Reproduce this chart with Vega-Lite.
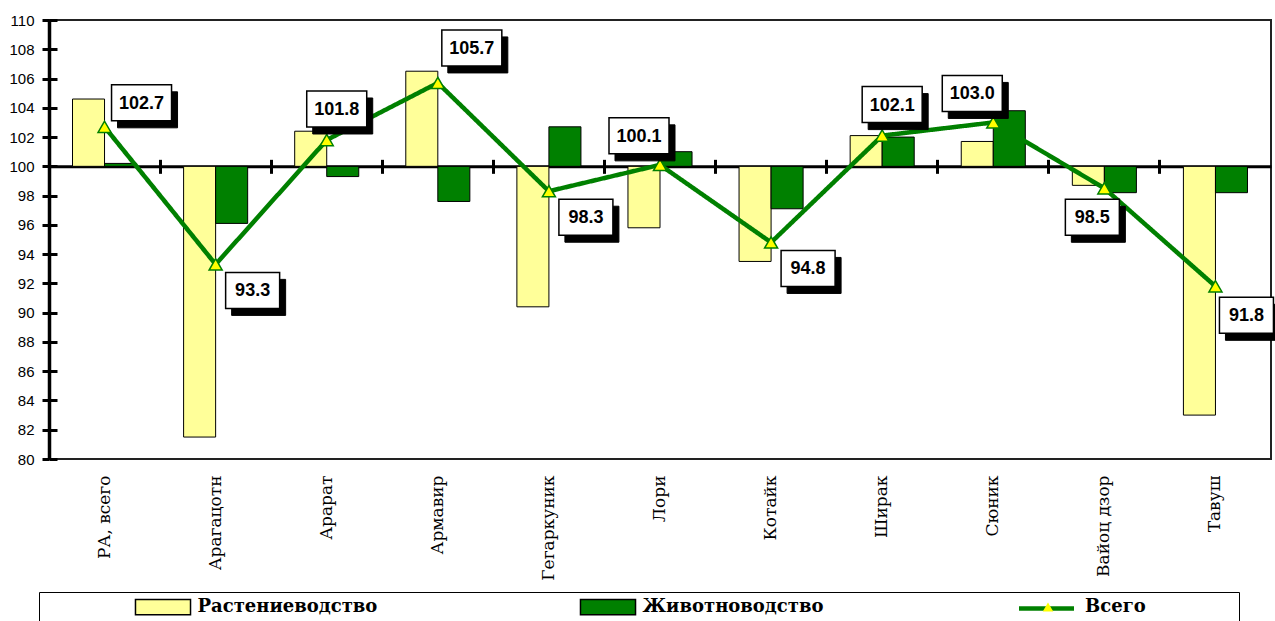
{
  "$schema": "https://vega.github.io/schema/vega-lite/v6.json",
  "width": 1222,
  "height": 439,
  "autosize": {"type": "none"},
  "padding": {"left": 49, "top": 20, "right": 4, "bottom": 162},
  "background": "white",
  "config": {"view": {"stroke": "#222", "strokeWidth": 2}, "axis": {"grid": false}},
  "datasets": {
    "bars": [
      {"region": "РА, всего", "series": "Растениеводство", "value": 104.6},
      {"region": "РА, всего", "series": "Животноводство", "value": 100.2},
      {"region": "Арагацотн", "series": "Растениеводство", "value": 81.5},
      {"region": "Арагацотн", "series": "Животноводство", "value": 96.1},
      {"region": "Арарат", "series": "Растениеводство", "value": 102.4},
      {"region": "Арарат", "series": "Животноводство", "value": 99.3},
      {"region": "Армавир", "series": "Растениеводство", "value": 106.5},
      {"region": "Армавир", "series": "Животноводство", "value": 97.6},
      {"region": "Гегаркуник", "series": "Растениеводство", "value": 90.4},
      {"region": "Гегаркуник", "series": "Животноводство", "value": 102.7},
      {"region": "Лори", "series": "Растениеводство", "value": 95.8},
      {"region": "Лори", "series": "Животноводство", "value": 101.0},
      {"region": "Котайк", "series": "Растениеводство", "value": 93.5},
      {"region": "Котайк", "series": "Животноводство", "value": 97.1},
      {"region": "Ширак", "series": "Растениеводство", "value": 102.1},
      {"region": "Ширак", "series": "Животноводство", "value": 102.0},
      {"region": "Сюник", "series": "Растениеводство", "value": 101.7},
      {"region": "Сюник", "series": "Животноводство", "value": 103.8},
      {"region": "Вайоц дзор", "series": "Растениеводство", "value": 98.7},
      {"region": "Вайоц дзор", "series": "Животноводство", "value": 98.2},
      {"region": "Тавуш", "series": "Растениеводство", "value": 83.0},
      {"region": "Тавуш", "series": "Животноводство", "value": 98.2}
    ],
    "totals": [
      {"region": "РА, всего", "value": 102.7},
      {"region": "Арагацотн", "value": 93.3},
      {"region": "Арарат", "value": 101.8},
      {"region": "Армавир", "value": 105.7},
      {"region": "Гегаркуник", "value": 98.3},
      {"region": "Лори", "value": 100.1},
      {"region": "Котайк", "value": 94.8},
      {"region": "Ширак", "value": 102.1},
      {"region": "Сюник", "value": 103.0},
      {"region": "Вайоц дзор", "value": 98.5},
      {"region": "Тавуш", "value": 91.8}
    ]
  },
  "resolve": {"axis": {"x": "independent", "y": "independent"}},
  "encoding": {
    "x": {"field": "region", "type": "nominal", "scale": {"domain": ["РА, всего", "Арагацотн", "Арарат", "Армавир", "Гегаркуник", "Лори", "Котайк", "Ширак", "Сюник", "Вайоц дзор", "Тавуш"], "paddingInner": 0, "paddingOuter": 0}, "axis": null},
    "y": {"field": "value", "type": "quantitative", "scale": {"domain": [80, 110], "nice": false, "zero": false}, "axis": null}
  },
  "layer": [
    {
      "data": {"name": "bars"},
      "mark": {"type": "bar", "stroke": "black", "strokeWidth": 1, "opacity": 1},
      "encoding": {
        "x": {"field": "region", "type": "nominal", "scale": {"domain": ["РА, всего", "Арагацотн", "Арарат", "Армавир", "Гегаркуник", "Лори", "Котайк", "Ширак", "Сюник", "Вайоц дзор", "Тавуш"], "paddingInner": 0, "paddingOuter": 0},
          "axis": {"orient": "bottom", "title": null, "domain": false, "ticks": false, "labelAngle": -90, "labelAlign": "right", "labelBaseline": "middle", "labelPadding": 16, "labelFont": "DejaVu Serif", "labelFontSize": 17, "labelColor": "black", "labelLimit": 300}},
        "y": {"field": "value", "type": "quantitative", "scale": {"domain": [80, 110], "nice": false, "zero": false},
          "axis": {"orient": "left", "title": null, "values": [80, 82, 84, 86, 88, 90, 92, 94, 96, 98, 100, 102, 104, 106, 108, 110], "domainColor": "black", "domainWidth": 3.5, "tickColor": "black", "tickWidth": 3, "tickSize": 7, "labelPadding": 8, "labelFont": "Liberation Sans", "labelFontSize": 15, "labelColor": "black"}},
        "y2": {"datum": 100},
        "xOffset": {"field": "series", "type": "nominal", "scale": {"domain": ["Растениеводство", "Животноводство"], "paddingInner": 0, "paddingOuter": 0.734}},
        "color": {"field": "series", "type": "nominal",
          "scale": {"domain": ["Растениеводство", "Животноводство"], "range": ["#FFFF99", "#008000"]},
          "legend": {
            "orient": "none", "legendX": -10, "legendY": 572, "direction": "horizontal", "columns": 2, "zindex": 2,
            "title": " ", "titleOrient": "left", "titlePadding": 109, "titleFontSize": 10,
            "padding": 6,
            "symbolSize": 256, "symbolType": "M-3.44,-0.95L3.44,-0.95L3.44,0.95L-3.44,0.95Z",
            "symbolStrokeColor": "black", "symbolStrokeWidth": 1.5, "symbolOpacity": 1,
            "labelFont": "DejaVu Serif", "labelFontWeight": "bold", "labelFontSize": 18, "labelColor": "black", "labelLimit": 400, "labelOffset": 25.5,
            "columnPadding": 199, "gridAlign": "each"
          }}
      }
    },
    {
      "data": {"name": "totals"},
      "mark": {"type": "line", "strokeWidth": 4.5, "color": "#008000"},
      "encoding": {
        "x": {"field": "region", "type": "nominal", "scale": {"domain": ["РА, всего", "Арагацотн", "Арарат", "Армавир", "Гегаркуник", "Лори", "Котайк", "Ширак", "Сюник", "Вайоц дзор", "Тавуш"], "paddingInner": 0, "paddingOuter": 0},
          "axis": {"orient": "top", "offset": -146.33, "title": null, "labels": false, "bandPosition": 0, "domainColor": "black", "domainWidth": 3, "tickColor": "black", "tickWidth": 3, "tickSize": 7}},
        "y": {"field": "value", "type": "quantitative", "scale": {"domain": [80, 110], "nice": false, "zero": false},
          "axis": {"orient": "left", "offset": -8, "title": null, "labels": false, "domain": false, "values": [80, 82, 84, 86, 88, 90, 92, 94, 96, 98, 100, 102, 104, 106, 108, 110], "tickColor": "black", "tickWidth": 3, "tickSize": 8}},
        "strokeDash": {"datum": "Всего (линия)", "scale": {"domain": ["Всего (линия)"], "range": [[1, 0]]},
          "legend": {"orient": "none", "legendX": -10, "legendY": 572, "zindex": 1,
            "title": " ", "titleOrient": "left", "titlePadding": 991, "titleFontSize": 10,
            "padding": 6, "strokeColor": "black",
            "symbolType": "M-3.44,0L3.44,0", "symbolSize": 256, "symbolStrokeWidth": 4.5, "symbolStrokeColor": "#008000", "symbolOpacity": 1,
            "labelExpr": "''", "labelFont": "DejaVu Serif", "labelFontWeight": "bold", "labelFontSize": 18, "labelOffset": 176}}
      }
    },
    {
      "data": {"name": "totals"},
      "mark": {"type": "point", "size": 170, "filled": true, "fill": "#FFFF00", "stroke": "#008000", "strokeWidth": 1.5, "opacity": 1},
      "encoding": {
        "x": {"field": "region", "type": "nominal", "scale": {"domain": ["РА, всего", "Арагацотн", "Арарат", "Армавир", "Гегаркуник", "Лори", "Котайк", "Ширак", "Сюник", "Вайоц дзор", "Тавуш"], "paddingInner": 0, "paddingOuter": 0},
          "axis": {"orient": "top", "offset": -153.33, "title": null, "labels": false, "domain": false, "bandPosition": 0, "tickColor": "black", "tickWidth": 3, "tickSize": 7}},
        "shape": {"datum": "Всего", "scale": {"domain": ["Всего"], "range": ["triangle-up"]},
          "legend": {"orient": "none", "legendX": -10, "legendY": 572, "zindex": 3,
            "title": " ", "titleOrient": "left", "titlePadding": 994, "titleFontSize": 10,
            "padding": 6,
            "symbolSize": 110, "symbolFillColor": "#FFFF00", "symbolStrokeColor": "#008000", "symbolStrokeWidth": 1.5, "symbolOpacity": 1,
            "labelFont": "DejaVu Serif", "labelFontWeight": "bold", "labelFontSize": 18, "labelColor": "black", "labelLimit": 400, "labelOffset": 28}}
      }
    },
    {
      "data": {"name": "totals"},
      "transform": [{"filter": {"field": "region", "oneOf": ["РА, всего"]}}],
      "encoding": {"shape": {"condition": {"test": "datum.value >= 100", "value": "M-1,-0.6L1,-0.6L1,0.6L-1,0.6Z"}, "value": "M-0.9,-0.6L0.9,-0.6L0.9,0.6L-0.9,0.6Z"}},
      "layer": [
        {"mark": {"type": "point", "filled": true, "fill": "black", "stroke": "black", "strokeWidth": 1, "opacity": 1, "size": 3600, "xOffset": 43, "yOffset": -17}},
        {"mark": {"type": "point", "filled": true, "fill": "white", "stroke": "black", "strokeWidth": 1.5, "opacity": 1, "size": 3600, "xOffset": 37, "yOffset": -24}},
        {"mark": {"type": "text", "font": "Liberation Sans", "fontWeight": "bold", "fontSize": 18, "align": "center", "baseline": "middle", "color": "black", "xOffset": 37, "yOffset": -23}, "encoding": {"shape": null, "text": {"field": "value", "type": "quantitative", "format": ".1f"}}}
      ]
    },
    {
      "data": {"name": "totals"},
      "transform": [{"filter": {"field": "region", "oneOf": ["Арагацотн", "Гегаркуник", "Котайк"]}}],
      "encoding": {"shape": {"condition": {"test": "datum.value >= 100", "value": "M-1,-0.6L1,-0.6L1,0.6L-1,0.6Z"}, "value": "M-0.9,-0.6L0.9,-0.6L0.9,0.6L-0.9,0.6Z"}},
      "layer": [
        {"mark": {"type": "point", "filled": true, "fill": "black", "stroke": "black", "strokeWidth": 1, "opacity": 1, "size": 3600, "xOffset": 43, "yOffset": 33}},
        {"mark": {"type": "point", "filled": true, "fill": "white", "stroke": "black", "strokeWidth": 1.5, "opacity": 1, "size": 3600, "xOffset": 37, "yOffset": 26}},
        {"mark": {"type": "text", "font": "Liberation Sans", "fontWeight": "bold", "fontSize": 18, "align": "center", "baseline": "middle", "color": "black", "xOffset": 37, "yOffset": 27}, "encoding": {"shape": null, "text": {"field": "value", "type": "quantitative", "format": ".1f"}}}
      ]
    },
    {
      "data": {"name": "totals"},
      "transform": [{"filter": {"field": "region", "oneOf": ["Тавуш"]}}],
      "encoding": {"shape": {"condition": {"test": "datum.value >= 100", "value": "M-1,-0.6L1,-0.6L1,0.6L-1,0.6Z"}, "value": "M-0.9,-0.6L0.9,-0.6L0.9,0.6L-0.9,0.6Z"}},
      "layer": [
        {"mark": {"type": "point", "filled": true, "fill": "black", "stroke": "black", "strokeWidth": 1, "opacity": 1, "size": 3600, "xOffset": 37, "yOffset": 36}},
        {"mark": {"type": "point", "filled": true, "fill": "white", "stroke": "black", "strokeWidth": 1.5, "opacity": 1, "size": 3600, "xOffset": 31, "yOffset": 29}},
        {"mark": {"type": "text", "font": "Liberation Sans", "fontWeight": "bold", "fontSize": 18, "align": "center", "baseline": "middle", "color": "black", "xOffset": 31, "yOffset": 30}, "encoding": {"shape": null, "text": {"field": "value", "type": "quantitative", "format": ".1f"}}}
      ]
    },
    {
      "data": {"name": "totals"},
      "transform": [{"filter": {"field": "region", "oneOf": ["Арарат", "Ширак"]}}],
      "encoding": {"shape": {"condition": {"test": "datum.value >= 100", "value": "M-1,-0.6L1,-0.6L1,0.6L-1,0.6Z"}, "value": "M-0.9,-0.6L0.9,-0.6L0.9,0.6L-0.9,0.6Z"}},
      "layer": [
        {"mark": {"type": "point", "filled": true, "fill": "black", "stroke": "black", "strokeWidth": 1, "opacity": 1, "size": 3600, "xOffset": 16, "yOffset": -24}},
        {"mark": {"type": "point", "filled": true, "fill": "white", "stroke": "black", "strokeWidth": 1.5, "opacity": 1, "size": 3600, "xOffset": 10, "yOffset": -31}},
        {"mark": {"type": "text", "font": "Liberation Sans", "fontWeight": "bold", "fontSize": 18, "align": "center", "baseline": "middle", "color": "black", "xOffset": 10, "yOffset": -30}, "encoding": {"shape": null, "text": {"field": "value", "type": "quantitative", "format": ".1f"}}}
      ]
    },
    {
      "data": {"name": "totals"},
      "transform": [{"filter": {"field": "region", "oneOf": ["Армавир"]}}],
      "encoding": {"shape": {"condition": {"test": "datum.value >= 100", "value": "M-1,-0.6L1,-0.6L1,0.6L-1,0.6Z"}, "value": "M-0.9,-0.6L0.9,-0.6L0.9,0.6L-0.9,0.6Z"}},
      "layer": [
        {"mark": {"type": "point", "filled": true, "fill": "black", "stroke": "black", "strokeWidth": 1, "opacity": 1, "size": 3600, "xOffset": 40, "yOffset": -28}},
        {"mark": {"type": "point", "filled": true, "fill": "white", "stroke": "black", "strokeWidth": 1.5, "opacity": 1, "size": 3600, "xOffset": 34, "yOffset": -35}},
        {"mark": {"type": "text", "font": "Liberation Sans", "fontWeight": "bold", "fontSize": 18, "align": "center", "baseline": "middle", "color": "black", "xOffset": 34, "yOffset": -34}, "encoding": {"shape": null, "text": {"field": "value", "type": "quantitative", "format": ".1f"}}}
      ]
    },
    {
      "data": {"name": "totals"},
      "transform": [{"filter": {"field": "region", "oneOf": ["Лори", "Сюник"]}}],
      "encoding": {"shape": {"condition": {"test": "datum.value >= 100", "value": "M-1,-0.6L1,-0.6L1,0.6L-1,0.6Z"}, "value": "M-0.9,-0.6L0.9,-0.6L0.9,0.6L-0.9,0.6Z"}},
      "layer": [
        {"mark": {"type": "point", "filled": true, "fill": "black", "stroke": "black", "strokeWidth": 1, "opacity": 1, "size": 3600, "xOffset": -15, "yOffset": -22}},
        {"mark": {"type": "point", "filled": true, "fill": "white", "stroke": "black", "strokeWidth": 1.5, "opacity": 1, "size": 3600, "xOffset": -21, "yOffset": -29}},
        {"mark": {"type": "text", "font": "Liberation Sans", "fontWeight": "bold", "fontSize": 18, "align": "center", "baseline": "middle", "color": "black", "xOffset": -21, "yOffset": -28}, "encoding": {"shape": null, "text": {"field": "value", "type": "quantitative", "format": ".1f"}}}
      ]
    },
    {
      "data": {"name": "totals"},
      "transform": [{"filter": {"field": "region", "oneOf": ["Вайоц дзор"]}}],
      "encoding": {"shape": {"condition": {"test": "datum.value >= 100", "value": "M-1,-0.6L1,-0.6L1,0.6L-1,0.6Z"}, "value": "M-0.9,-0.6L0.9,-0.6L0.9,0.6L-0.9,0.6Z"}},
      "layer": [
        {"mark": {"type": "point", "filled": true, "fill": "black", "stroke": "black", "strokeWidth": 1, "opacity": 1, "size": 3600, "xOffset": -6, "yOffset": 36}},
        {"mark": {"type": "point", "filled": true, "fill": "white", "stroke": "black", "strokeWidth": 1.5, "opacity": 1, "size": 3600, "xOffset": -12, "yOffset": 29}},
        {"mark": {"type": "text", "font": "Liberation Sans", "fontWeight": "bold", "fontSize": 18, "align": "center", "baseline": "middle", "color": "black", "xOffset": -12, "yOffset": 30}, "encoding": {"shape": null, "text": {"field": "value", "type": "quantitative", "format": ".1f"}}}
      ]
    }
  ]
}
